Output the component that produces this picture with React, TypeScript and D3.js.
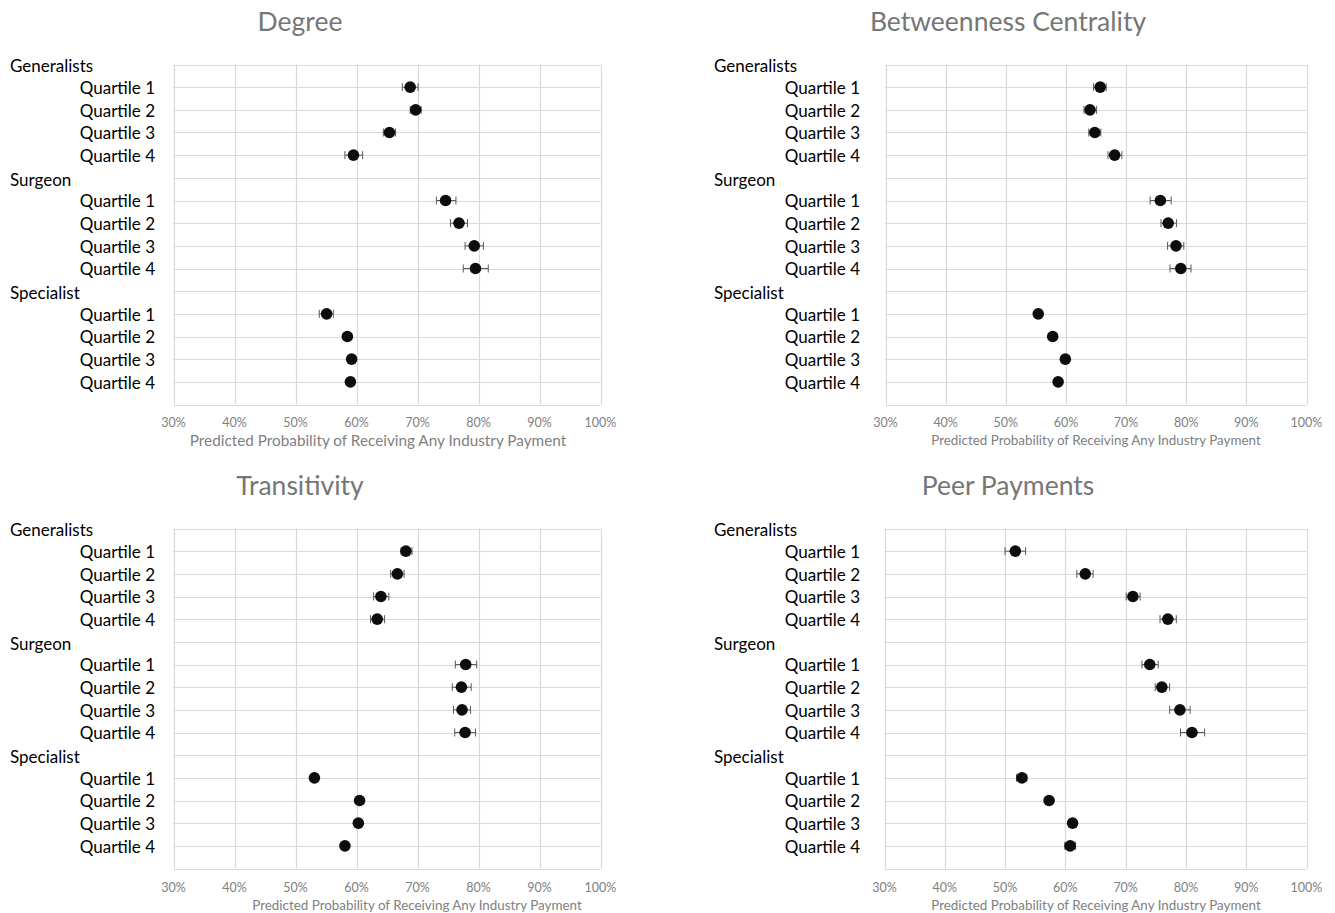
import { useRef, useEffect } from "react";
import * as d3 from "d3";

const groups = ["Generalists", "Surgeon", "Specialist"];
const quartiles = ["Quartile 1", "Quartile 2", "Quartile 3", "Quartile 4"];
const xTicks = [30, 40, 50, 60, 70, 80, 90, 100];
const axisTitle = "Predicted Probability of Receiving Any Industry Payment";

// estimates and confidence bounds, order: group by group, Q1..Q4
const degreeEst = [68.8, 69.7, 65.4, 59.5, 74.6, 76.8, 79.3, 79.5, 55.1, 58.5, 59.2, 59.0];
const degreeLo = [67.5, 68.8, 64.4, 58.1, 73.1, 75.4, 77.8, 77.5, 53.9, 58.0, 58.7, 58.5];
const degreeHi = [70.1, 70.6, 66.4, 61.0, 76.3, 78.2, 80.8, 81.6, 56.2, 59.0, 59.7, 59.5];

const betweenEst = [65.7, 64.0, 64.8, 68.1, 75.7, 77.0, 78.3, 79.1, 55.4, 57.8, 59.9, 58.7];
const betweenLo = [64.6, 63.0, 63.8, 67.0, 74.0, 75.8, 76.9, 77.3, 54.9, 57.3, 59.5, 58.3];
const betweenHi = [66.7, 65.1, 65.8, 69.3, 77.5, 78.4, 79.6, 80.8, 55.9, 58.3, 60.3, 59.1];

const transEst = [68.1, 66.7, 64.0, 63.4, 77.9, 77.2, 77.3, 77.8, 53.1, 60.5, 60.3, 58.1];
const transLo = [67.3, 65.6, 62.8, 62.3, 76.2, 75.7, 75.9, 76.1, 52.8, 60.1, 59.9, 57.6];
const transHi = [69.1, 67.8, 65.3, 64.6, 79.7, 78.8, 78.7, 79.5, 53.4, 60.9, 60.7, 58.5];

const peerEst = [51.7, 63.3, 71.2, 77.0, 74.0, 76.0, 79.0, 81.0, 52.8, 57.3, 61.2, 60.8];
const peerLo = [50.0, 61.9, 70.1, 75.7, 72.7, 74.9, 77.3, 79.1, 51.9, 57.0, 60.6, 59.9];
const peerHi = [53.4, 64.6, 72.4, 78.4, 75.4, 77.3, 80.7, 83.1, 53.6, 57.6, 61.8, 61.7];

const panels = [
  { title: "Degree", est: degreeEst, lo: degreeLo, hi: degreeHi,
    left: 173.5, right: 600.5, top: 64.5, bottom: 404.5, cx: 300, ty: 22,
    catX: 10, qX: 155, tickY: 423, atX: 378, atY: 441, atSize: 15.3 },
  { title: "Betweenness Centrality", est: betweenEst, lo: betweenLo, hi: betweenHi,
    left: 885.5, right: 1306.5, top: 64.5, bottom: 404.5, cx: 1008, ty: 22,
    catX: 714, qX: 860, tickY: 423, atX: 1096, atY: 440, atSize: 13.4 },
  { title: "Transitivity", est: transEst, lo: transLo, hi: transHi,
    left: 173.5, right: 600.5, top: 528.5, bottom: 868.5, cx: 300, ty: 486,
    catX: 10, qX: 155, tickY: 888, atX: 417, atY: 905, atSize: 13.4 },
  { title: "Peer Payments", est: peerEst, lo: peerLo, hi: peerHi,
    left: 884.5, right: 1306.5, top: 528.5, bottom: 868.5, cx: 1008, ty: 486,
    catX: 714, qX: 860, tickY: 888, atX: 1096, atY: 905, atSize: 13.4 },
];

const FONT = "Lato, 'Open Sans', sans-serif";

function App() {
  const svgRef = useRef(null);

  useEffect(() => {
    const svg = d3.select(svgRef.current);
    svg.selectAll("*").remove();

    panels.forEach((p) => {
      const x = d3.scaleLinear().domain([30, 100]).range([p.left, p.right]);
      const y = d3.scaleLinear().domain([0, 15]).range([p.bottom, p.top]);
      const g = svg.append("g");

      // gridlines
      g.append("g")
        .selectAll("line")
        .data(d3.range(0, 16))
        .join("line")
        .attr("x1", p.left)
        .attr("x2", p.right)
        .attr("y1", (d) => Math.round(y(d)) + 0.5)
        .attr("y2", (d) => Math.round(y(d)) + 0.5)
        .attr("stroke", "#d9d9d9")
        .attr("stroke-width", 1.2);

      g.append("g")
        .selectAll("line")
        .data(xTicks)
        .join("line")
        .attr("x1", (d) => Math.round(x(d)) + 0.5)
        .attr("x2", (d) => Math.round(x(d)) + 0.5)
        .attr("y1", p.top)
        .attr("y2", p.bottom)
        .attr("stroke", "#d9d9d9")
        .attr("stroke-width", 1.2);

      // tick labels
      g.append("g")
        .selectAll("text")
        .data(xTicks)
        .join("text")
        .attr("x", (d) => x(d))
        .attr("y", p.tickY)
        .attr("dy", "0.35em")
        .attr("text-anchor", "middle")
        .attr("fill", "#808080")
        .style("font", `12.5px ${FONT}`)
        .text((d) => d + "%");

      g.append("text")
        .attr("x", p.atX)
        .attr("y", p.atY)
        .attr("dy", "0.35em")
        .attr("text-anchor", "middle")
        .attr("fill", "#808080")
        .style("font", `${p.atSize}px ${FONT}`)
        .text(axisTitle);

      g.append("text")
        .attr("x", p.cx)
        .attr("y", p.ty)
        .attr("dy", "0.35em")
        .attr("text-anchor", "middle")
        .attr("fill", "#767676")
        .style("font", `26.5px ${FONT}`)
        .text(p.title);

      // category labels
      groups.forEach((grp, gi) => {
        g.append("text")
          .attr("x", p.catX)
          .attr("y", y(15 - gi * 5) + 2)
          .attr("dy", "0.35em")
          .attr("fill", "#000")
          .style("font", `17px ${FONT}`)
          .text(grp);
        quartiles.forEach((q, qi) => {
          g.append("text")
            .attr("x", p.qX)
            .attr("y", y(15 - gi * 5 - 1 - qi) + 1)
            .attr("dy", "0.35em")
            .attr("text-anchor", "end")
            .attr("fill", "#000")
            .style("font", `17px ${FONT}`)
            .text(q);
        });
      });

      const rows = p.est.map((v, i) => ({
        v,
        lo: p.lo[i],
        hi: p.hi[i],
        yy: y(15 - Math.floor(i / 4) * 5 - 1 - (i % 4)),
      }));

      const bars = g.append("g").attr("stroke", "#595959").attr("stroke-width", 1);
      bars.selectAll("line.h")
        .data(rows)
        .join("line")
        .attr("class", "h")
        .attr("x1", (d) => x(d.lo))
        .attr("x2", (d) => x(d.hi))
        .attr("y1", (d) => d.yy)
        .attr("y2", (d) => d.yy);
      bars.selectAll("line.l")
        .data(rows)
        .join("line")
        .attr("class", "l")
        .attr("x1", (d) => x(d.lo))
        .attr("x2", (d) => x(d.lo))
        .attr("y1", (d) => d.yy - 4)
        .attr("y2", (d) => d.yy + 4);
      bars.selectAll("line.r")
        .data(rows)
        .join("line")
        .attr("class", "r")
        .attr("x1", (d) => x(d.hi))
        .attr("x2", (d) => x(d.hi))
        .attr("y1", (d) => d.yy - 4)
        .attr("y2", (d) => d.yy + 4);

      g.append("g")
        .selectAll("circle")
        .data(rows)
        .join("circle")
        .attr("cx", (d) => x(d.v))
        .attr("cy", (d) => d.yy)
        .attr("r", 5.8)
        .attr("fill", "#0d0d0d");
    });
  }, []);

  return (
    <svg
      ref={svgRef}
      width={1335}
      height={913}
      style={{ position: "absolute", left: 0, top: 0, background: "#fff" }}
    ></svg>
  );
}

export default App;
